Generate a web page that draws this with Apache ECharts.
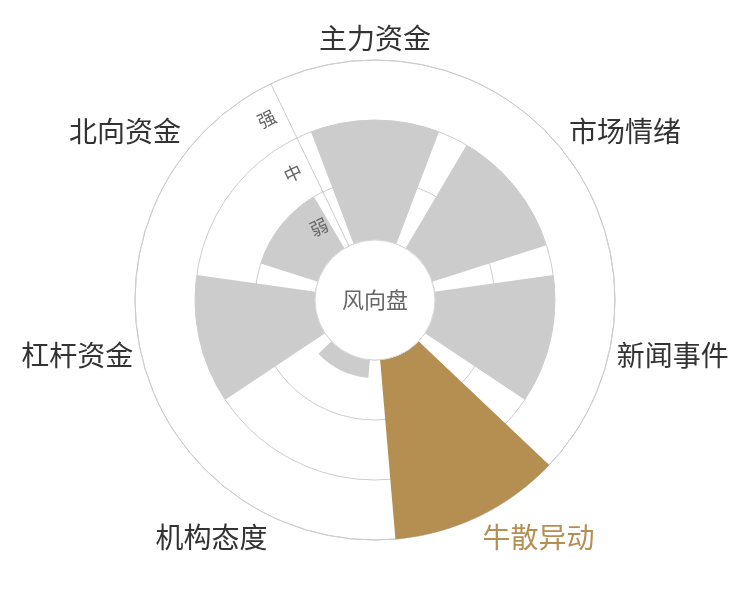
<!DOCTYPE html>
<html>
<head>
<meta charset="utf-8">
<script src="https://cdn.jsdelivr.net/npm/echarts@6/dist/echarts.min.js"></script>
<style>
html, body { margin: 0; padding: 0; background: #fff; }
#mychart { width: 750px; height: 600px; }
</style>
</head>
<body>
<div id="mychart"></div>
<script>
// 各维度与强度
var category = ['主力资金', '市场情绪', '新闻事件', '牛散异动', '机构态度', '杠杆资金', '北向资金']
var levelLabel = ['弱', '中', '强']
var values = [2, 2, 2, 3, 0.3, 2, 1]
var highlight = '牛散异动'
var centerText = '风向盘'

var gray = '#cccccc'
var gold = '#b58f52'
var lineColor = '#cccccc'
var startAngle = 90 + 360 / category.length / 2

var angleData = category.map(function (c) {
    if (c == highlight) {
        return { value: c, textStyle: { color: gold } }
    }
    return c
})

var barData = category.map(function (c, i) {
    return {
        value: values[i],
        itemStyle: { color: c == highlight ? gold : gray }
    }
})

var myChart = echarts.init(document.getElementById('mychart'))

var option = {
    animation: false,
    textStyle: { fontFamily: 'Noto Sans CJK SC' },
    polar: [
        { center: ['50%', '50%'], radius: [60, 240] },
        { center: ['50%', '50%'], radius: [60, 240] }
    ],
    angleAxis: [{
        polarIndex: 0,
        type: 'category',
        data: angleData,
        startAngle: startAngle,
        axisLine: { lineStyle: { color: lineColor, width: 1 } },
        axisTick: { show: false },
        splitLine: { show: false },
        axisLabel: { fontSize: 28, margin: 8, color: '#333' }
    }, {
        polarIndex: 1,
        type: 'category',
        data: category,
        startAngle: startAngle,
        axisLine: { show: false },
        axisTick: { show: false },
        axisLabel: { show: false },
        splitLine: { show: false }
    }],
    radiusAxis: [{
        polarIndex: 0,
        type: 'value',
        min: 0,
        max: 3,
        interval: 1,
        axisLine: { show: false },
        axisTick: { show: false },
        axisLabel: { show: false },
        splitLine: { show: true, lineStyle: { color: lineColor, width: 1 } }
    }, {
        polarIndex: 1,
        type: 'category',
        data: levelLabel,
        z: 5,
        axisLine: { lineStyle: { color: lineColor, width: 1 } },
        axisTick: { show: false },
        splitLine: { show: false },
        axisLabel: { rotate: 25.7, fontSize: 18, color: '#666', margin: 10, interval: 0 }
    }],
    series: [{
        type: 'bar',
        coordinateSystem: 'polar',
        polarIndex: 0,
        data: barData,
        barCategoryGap: '19%',
        silent: true
    }, {
        type: 'pie',
        center: ['50%', '50%'],
        radius: [0, 60],
        silent: true,
        z: 10,
        itemStyle: { color: '#fff', borderColor: '#d6d6d6', borderWidth: 1 },
        label: { show: true, position: 'center', fontSize: 22, color: '#666' },
        labelLine: { show: false },
        data: [{ value: 1, name: centerText }]
    }]
}

myChart.setOption(option)
</script>
</body>
</html>
